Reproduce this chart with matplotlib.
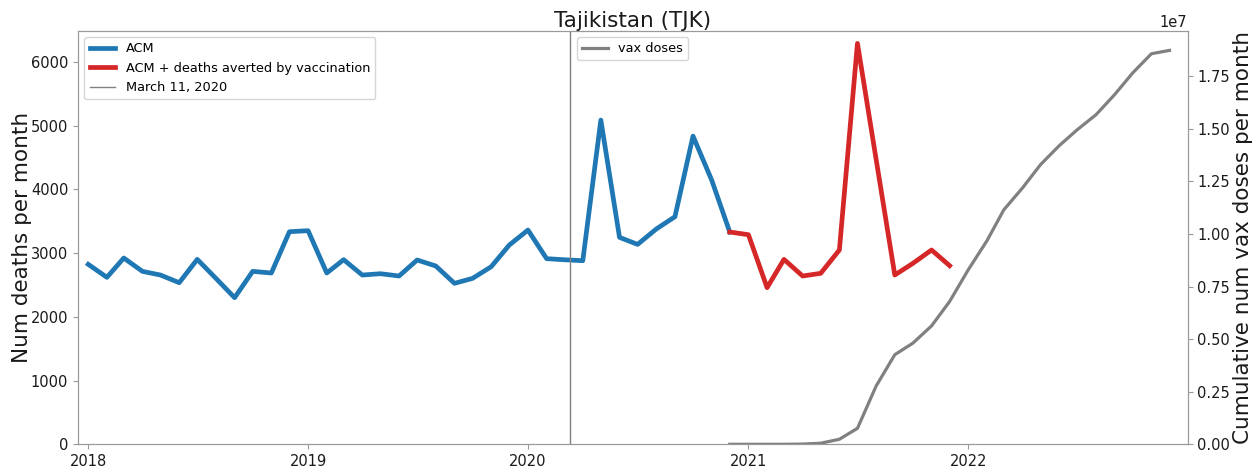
import matplotlib
matplotlib.use("Agg")
import matplotlib.pyplot as plt
import matplotlib.dates as mdates
import pandas as pd

# Monthly all-cause mortality (ACM), Jan 2018 - Dec 2020
acm_start = "2018-01-01"
acm_deaths = [
    2823, 2619, 2922, 2713, 2655, 2535, 2901, 2603, 2300, 2713, 2687, 3335,
    3351, 2687, 2896, 2655, 2676, 2640, 2891, 2797, 2525, 2603, 2786, 3126,
    3361, 2912, 2895, 2880, 5086, 3246, 3136, 3377, 3570, 4835, 4145, 3330,
]

# ACM plus deaths averted by vaccination, Dec 2020 - Dec 2021
averted_start = "2020-12-01"
acm_plus_averted = [3330, 3288, 2457, 2901, 2640, 2682, 3048, 6289, 4470,
                    2656, 2838, 3048, 2802]

# Cumulative vaccine doses, Dec 2020 - Dec 2022
vax_start = "2020-12-01"
vax_doses = [
    0, 0, 0, 0, 10000, 50000, 240000, 760000, 2770000, 4260000, 4810000,
    5630000, 6790000, 8300000, 9680000, 11150000, 12190000, 13300000,
    14200000, 14960000, 15670000, 16630000, 17660000, 18570000, 18730000,
]

pandemic_date = "2020-03-11"
title = "Tajikistan (TJK)"

acm_dates = pd.date_range(acm_start, periods=len(acm_deaths), freq="MS")
averted_dates = pd.date_range(averted_start, periods=len(acm_plus_averted), freq="MS")
vax_dates = pd.date_range(vax_start, periods=len(vax_doses), freq="MS")

spine_col = "#9a9a9a"
text_col = "#1a1a1a"

fig = plt.figure(figsize=(12.6, 4.7), dpi=100)
ax = fig.add_axes([0.0619, 0.0547, 0.8806, 0.8800])
ax2 = ax.twinx()

ax.plot(acm_dates, acm_deaths, color="#1f77b4", lw=3.4, label="ACM")
ax.plot(averted_dates, acm_plus_averted, color="#d62728", lw=3.4,
        label="ACM + deaths averted by vaccination")
ax.axvline(pd.Timestamp(pandemic_date), color="gray", lw=1.0,
           label="March 11, 2020")
ax2.plot(vax_dates, vax_doses, color="gray", lw=2.3, label="vax doses")

ax.set_ylim(bottom=0)
ax2.set_ylim(bottom=0)
ax.set_xlim(pd.Timestamp("2017-12-15"), pd.Timestamp("2022-12-31"))

ax.xaxis.set_major_locator(mdates.YearLocator())
ax.xaxis.set_major_formatter(mdates.DateFormatter("%Y"))

for a in (ax, ax2):
    for s in a.spines.values():
        s.set_color(spine_col)
    a.tick_params(colors=spine_col, labelcolor=text_col, labelsize=10.5)
ax2.yaxis.get_offset_text().set_fontsize(10.5)
ax2.yaxis.get_offset_text().set_color(text_col)

ax.set_ylabel("Num deaths per month", fontsize=15.5, color=text_col, labelpad=-1)
ax2.set_ylabel("Cumulative num vax doses per month", fontsize=15.5,
               color=text_col, labelpad=2)
ax.set_title(title, fontsize=15.5, color=text_col, pad=3)

ax.legend(loc="upper left", fontsize=9.3)
ax2.legend(loc="upper center", fontsize=9.3)

fig.savefig("out.png", dpi=100)
